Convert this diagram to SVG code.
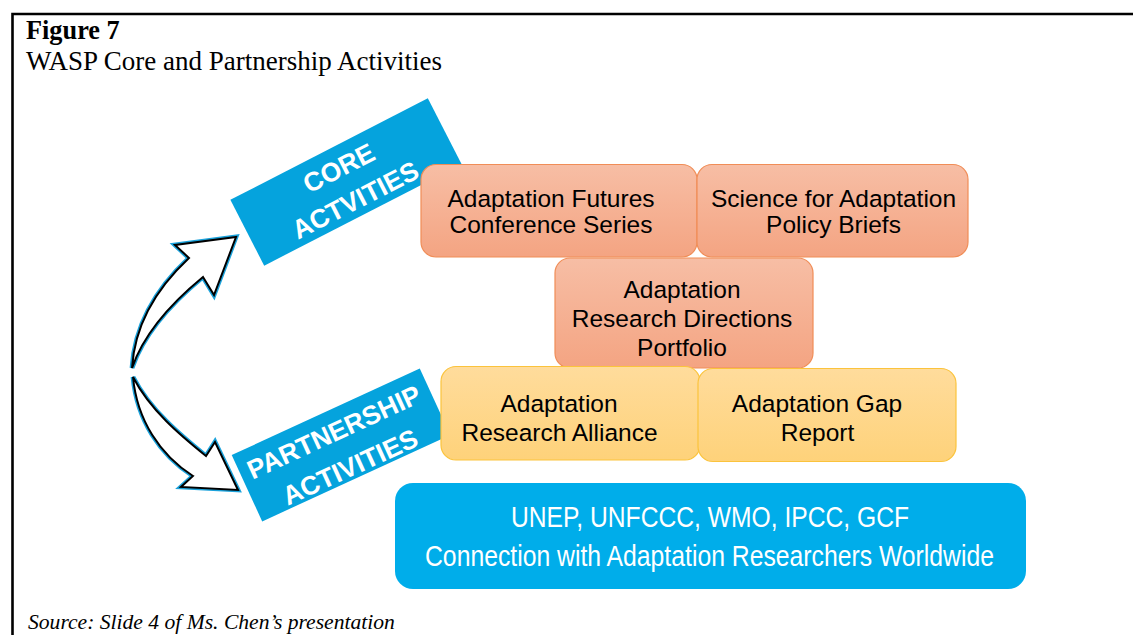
<svg xmlns="http://www.w3.org/2000/svg" width="1133" height="635" viewBox="0 0 1133 635">
  <defs>
    <linearGradient id="gOrange" x1="0" y1="0" x2="0" y2="1">
      <stop offset="0" stop-color="#f7bea5"/>
      <stop offset="1" stop-color="#f4a482"/>
    </linearGradient>
    <linearGradient id="gYellow" x1="0" y1="0" x2="0" y2="1">
      <stop offset="0" stop-color="#ffdc9c"/>
      <stop offset="1" stop-color="#fed27a"/>
    </linearGradient>
    <style>
      .frame { stroke: #000; stroke-width: 2.6; fill: none; }
      .caption { font-family: "Liberation Serif", "Times New Roman", serif; fill: #000; }
      .banner { fill: #05a3dd; }
      .bannerText { font-family: "Liberation Sans", Arial, sans-serif; font-weight: bold; fill: #fff; text-anchor: middle; }
      .orange { fill: url(#gOrange); stroke: #f08d57; stroke-width: 1.2; }
      .yellow { fill: url(#gYellow); stroke: #fbc33c; stroke-width: 1.2; }
      .partners { fill: #00adea; }
      .label { font-family: "Liberation Sans", Arial, sans-serif; font-size: 24.5px; fill: #000; text-anchor: middle; }
      .whiteLabel { font-family: "Liberation Sans", Arial, sans-serif; font-size: 29px; fill: #fff; text-anchor: middle; }
      .arrowGlow { fill: none; stroke: #1ba2db; stroke-width: 4.8; stroke-linejoin: miter; }
      .arrowLine { fill: #fff; stroke: #000; stroke-width: 2; stroke-linejoin: miter; }
    </style>
  </defs>

  <rect width="1133" height="635" fill="#fff"/>

  <!-- page frame: top rule and left rule -->
  <path class="frame" d="M 12.5 635 L 12.5 14 L 1133 14"/>

  <!-- heading and source line -->
  <text class="caption" x="26" y="39" font-size="26.3" font-weight="bold">Figure 7</text>
  <text class="caption" x="26" y="69.5" font-size="27">WASP Core and Partnership Activities</text>
  <text class="caption" x="28" y="629" font-size="21.6" font-style="italic">Source: Slide 4 of Ms. Chen’s presentation</text>

  <!-- curved arrows -->
  <g id="connectors">
    <g id="arrow-core">
      <path class="arrowGlow" d="M 132 368 C 135 320 160 285 189 258 L 175 245 L 236 237 L 214 295 L 203 277 C 175 300 145 330 132 368 Z"/>
      <path class="arrowLine" d="M 132 368 C 135 320 160 285 189 258 L 175 245 L 236 237 L 214 295 L 203 277 C 175 300 145 330 132 368 Z"/>
    </g>
    <g id="arrow-partnership">
      <path class="arrowGlow" d="M 133 377 C 137 420 160 455 193 476 L 181 487 L 238 490 L 215 442 L 206 456 C 180 435 150 410 133 377 Z"/>
      <path class="arrowLine" d="M 133 377 C 137 420 160 455 193 476 L 181 487 L 238 490 L 215 442 L 206 456 C 180 435 150 410 133 377 Z"/>
    </g>
  </g>

  <!-- tilted banners -->
  <g id="core-activities" transform="translate(346 182) rotate(-27.2)">
    <rect class="banner" x="-111" y="-37" width="222" height="74"/>
    <text class="bannerText" x="0" y="-6.5" font-size="26.5">CORE</text>
    <text class="bannerText" x="0" y="29.5" font-size="26.5">ACTVITIES</text>
  </g>
  <g id="partnership-activities" transform="translate(341 445) rotate(-24.7)">
    <rect class="banner" x="-103.5" y="-36.5" width="207" height="73"/>
    <text class="bannerText" x="-1" y="-5.5" font-size="26.5">PARTNERSHIP</text>
    <text class="bannerText" x="-1" y="33" font-size="26.5">ACTIVITIES</text>
  </g>

  <!-- core activity boxes -->
  <g id="futures-conference">
    <rect class="orange" x="421" y="164.5" width="276" height="92.5" rx="15"/>
    <text class="label" x="551" y="206.5">Adaptation Futures</text>
    <text class="label" x="551" y="232.5">Conference Series</text>
  </g>
  <g id="policy-briefs">
    <rect class="orange" x="697" y="164.5" width="271" height="92.5" rx="15"/>
    <text class="label" x="833.5" y="206.5">Science for Adaptation</text>
    <text class="label" x="833.5" y="232.5">Policy Briefs</text>
  </g>
  <g id="research-directions">
    <rect class="orange" x="555" y="258" width="258" height="110" rx="15"/>
    <text class="label" x="682" y="297.5">Adaptation</text>
    <text class="label" x="682" y="326.5">Research Directions</text>
    <text class="label" x="682" y="356">Portfolio</text>
  </g>

  <!-- partnership boxes -->
  <g id="research-alliance">
    <rect class="yellow" x="441" y="366.5" width="259" height="93.5" rx="15"/>
    <text class="label" x="559" y="411.5">Adaptation</text>
    <text class="label" x="559.5" y="440.5">Research Alliance</text>
  </g>
  <g id="gap-report">
    <rect class="yellow" x="698" y="368.5" width="258" height="93" rx="15"/>
    <text class="label" x="817" y="411.5">Adaptation Gap</text>
    <text class="label" x="817.5" y="440.5">Report</text>
  </g>
  <g id="partners">
    <rect class="partners" x="395" y="483" width="631" height="106" rx="18"/>
    <text class="whiteLabel" x="710" y="526.5" textLength="398" lengthAdjust="spacingAndGlyphs">UNEP, UNFCCC, WMO, IPCC, GCF</text>
    <text class="whiteLabel" x="709.5" y="566" textLength="569" lengthAdjust="spacingAndGlyphs">Connection with Adaptation Researchers Worldwide</text>
  </g>
</svg>
